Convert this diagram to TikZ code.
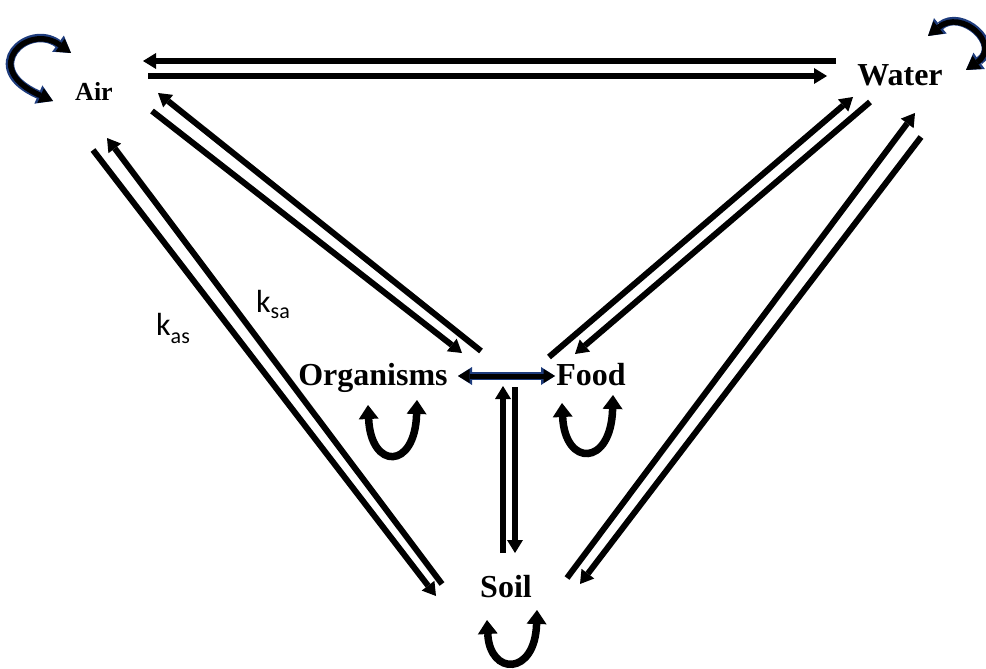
\documentclass[tikz,border=0pt]{standalone}
\usepackage{fontspec}
\setmainfont{Liberation Serif}
\newfontfamily\carlito{Carlito}
\usetikzlibrary{arrows.meta}
\definecolor{edgeblue}{RGB}{30,60,125}
\begin{document}
\begin{tikzpicture}[x=1pt,y=-1pt,
  flow/.style={line width=6pt,-{Triangle[length=13pt,width=16pt,line width=0pt]}},
  uloop/.style={line width=7.5pt,{Triangle[length=14pt,width=20pt,line width=0pt]}-{Triangle[length=14pt,width=20pt,line width=0pt]}},
  outl/.style={line width=8.5pt,draw=edgeblue,{Triangle[length=16pt,width=20pt,line width=0pt]}-{Triangle[length=16pt,width=20pt,line width=0pt]}},
  inl/.style={line width=5.5pt,draw=black,{Triangle[length=13.5pt,width=16pt,line width=0pt]}-{Triangle[length=13.5pt,width=16pt,line width=0pt]}},
  hout/.style={line width=7.5pt,draw=edgeblue,{Triangle[length=14pt,width=18pt,line width=0pt]}-{Triangle[length=14pt,width=18pt,line width=0pt]}},
  hin/.style={line width=5pt,draw=black,{Triangle[length=11.5pt,width=14pt,line width=0pt]}-{Triangle[length=11.5pt,width=14pt,line width=0pt]}},
  big/.style={font=\bfseries\fontsize{32}{32}\selectfont,inner sep=0pt,anchor=base},
  small/.style={font=\bfseries\fontsize{26}{26}\selectfont,inner sep=0pt,anchor=base},
  klbl/.style={font=\carlito\fontsize{32}{32}\selectfont,inner sep=0pt,anchor=base west}
]
\useasboundingbox (0,0) rectangle (986,669);

% compartment labels
\node[small] (air) at (94,100) {Air};
\node[big] (water) at (900,85) {Water};
\node[big] (org) at (373,385) {Organisms};
\node[big] (food) at (591,385) {Food};
\node[big] (soil) at (506,597) {Soil};

% rate constant labels
\node[klbl] (kas) at (156,335) {k\raisebox{-8pt}{\fontsize{22}{22}\selectfont as}};
\node[klbl] (ksa) at (256,312) {k\raisebox{-6pt}{\fontsize{22}{22}\selectfont sa}};

% end points of connectors
\coordinate (wa1) at (836,61);  \coordinate (aw1) at (143,61);
\coordinate (aw2) at (148,76);  \coordinate (wa2) at (827,76);
\coordinate (oa1) at (481,351); \coordinate (ao1) at (158,93);
\coordinate (ao2) at (152,111); \coordinate (oa2) at (462,353);
\coordinate (as1) at (93,150);  \coordinate (sa1) at (436,596);
\coordinate (sa2) at (442,584); \coordinate (as2) at (107,138);
\coordinate (fw1) at (549,357); \coordinate (wf1) at (853,97);
\coordinate (wf2) at (870,102); \coordinate (fw2) at (575,354);
\coordinate (sw1) at (567,578); \coordinate (ws1) at (915,113);
\coordinate (ws2) at (921,137); \coordinate (sw2) at (580,584);
\coordinate (sv1) at (503,553); \coordinate (vs1) at (503,386);
\coordinate (vs2) at (515,387); \coordinate (sv2) at (515,553);
\coordinate (hl) at (458,376);  \coordinate (hr) at (555,376);

% transfers
\draw[flow] (wa1) -- (aw1);
\draw[flow] (aw2) -- (wa2);
\draw[flow] (oa1) -- (ao1);
\draw[flow] (ao2) -- (oa2);
\draw[flow] (as1) -- (sa1);
\draw[flow] (sa2) -- (as2);
\draw[flow] (fw1) -- (wf1);
\draw[flow] (wf2) -- (fw2);
\draw[flow] (sw1) -- (ws1);
\draw[flow] (ws2) -- (sw2);
\draw[flow] (sv1) -- (vs1);
\draw[flow] (vs2) -- (sv2);

% organisms <-> food
\draw[hout] (hl) -- (hr);
\draw[hin] (hl) -- (hr);

% self loops: air and water
\coordinate (al1) at (71,53); \coordinate (al2) at (53,101);
\draw[outl] (al1) .. controls (28,22) and (-22,68) .. (al2);
\draw[inl] (al1) .. controls (28,22) and (-22,68) .. (al2);
\coordinate (wl1) at (928,36); \coordinate (wl2) at (966,70);
\draw[outl] (wl1) .. controls (962,8) and (1002,45) .. (wl2);
\draw[inl] (wl1) .. controls (962,8) and (1002,45) .. (wl2);

% self loops: organisms, food, soil
\coordinate (ou1) at (368,405); \coordinate (ou2) at (417,400);
\draw[uloop] (ou1) .. controls (371,470) and (415,470) .. (ou2);
\coordinate (fu1) at (562,403); \coordinate (fu2) at (613,395);
\draw[uloop] (fu1) .. controls (565,467) and (611,467) .. (fu2);
\coordinate (su1) at (487,620); \coordinate (su2) at (537,610);
\draw[uloop] (su1) .. controls (490,676) and (535,676) .. (su2);
\end{tikzpicture}
\end{document}
